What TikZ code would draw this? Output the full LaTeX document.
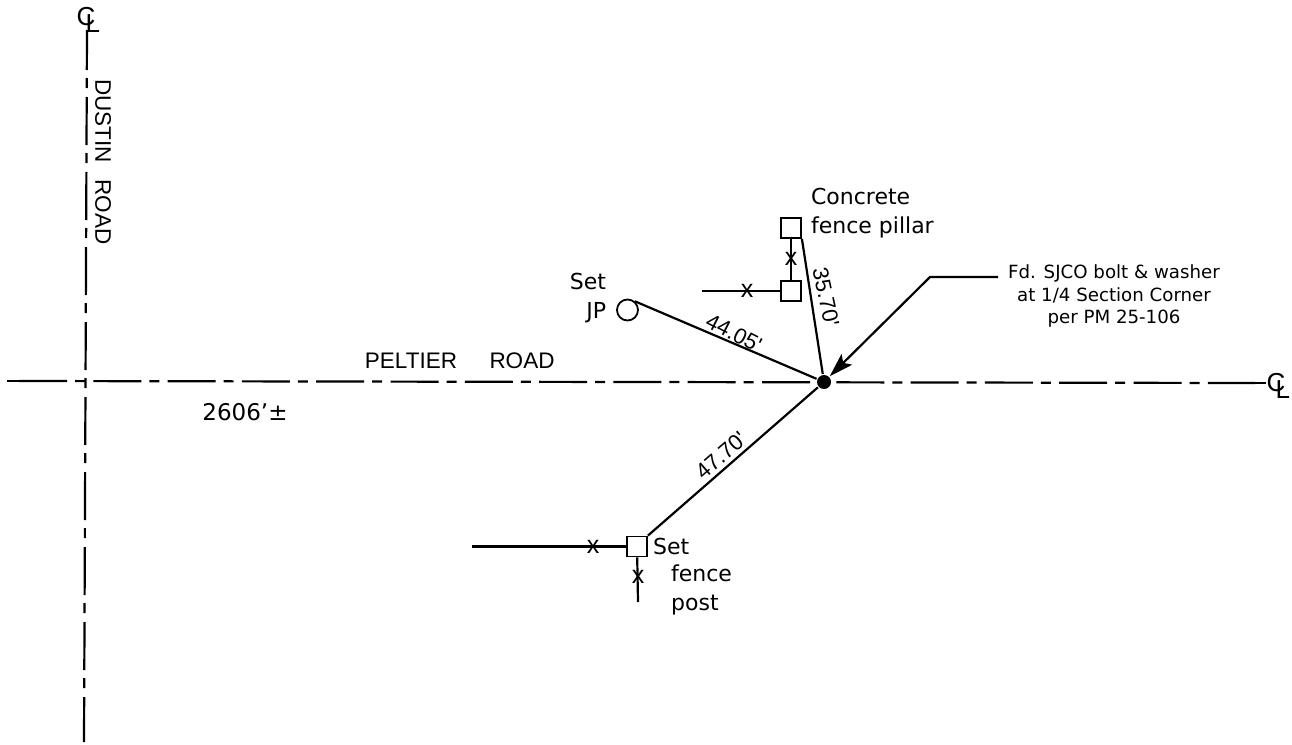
\documentclass[tikz,border=0pt]{standalone}
\usepackage{fontspec}
\usepackage{tikz}
\usetikzlibrary{arrows.meta}
\setmainfont{DejaVu Sans}
\newfontfamily\roadfont{Liberation Sans}
\newcommand{\clsign}{\rlap{\kern9pt\smash{\raisebox{-7pt}{L}}}C}

\begin{document}
\begin{tikzpicture}
[x=1pt,y=-1pt,line width=2.2pt,
every node/.style={inner sep=0pt,font=\fontsize{22}{29}\selectfont},
fencebox/.style={draw,rectangle,minimum size=20pt,line width=1.8pt},
fencex/.style={font=\roadfont\fontsize{25}{25}\selectfont},
road/.style={font=\roadfont\fontsize{22.5}{24}\selectfont},
dim/.style={font=\roadfont\fontsize{22}{24}\selectfont},
clmark/.style={font=\roadfont\fontsize{26}{26}\selectfont},
centerline/.style={dash pattern=on 48pt off 8pt on 10pt off 8.3pt}]
\useasboundingbox (0,0) rectangle (1292,744);
\node[clmark] (cltop) at (86,17) {\clsign};
\node[clmark] (clright) at (1276,383) {\clsign};
\coordinate (vtop) at (87,30);
\coordinate (vbot) at (84,742);
\coordinate (hleft) at (7,381);
\coordinate (hstart) at (19,381);
\coordinate (hend) at (1255,383);
\coordinate (hright) at (1266,383);
\draw[dash pattern=on 48pt off 8pt on 10pt off 9pt,dash phase=8pt] (vtop) -- (vbot);
\draw[centerline] (hstart) -- (hend);
\draw (hleft) -- (hstart);
\draw (hend) -- (hright);

\node[circle,fill=black,minimum size=14pt] (bolt) at (824,382) {};
\node[fencebox] (pillar) at (791,228) {};
\node[fencebox] (corner) at (791,291) {};
\node[fencebox] (post) at (637,546.5) {};
\node[draw,circle,minimum size=21pt,line width=1.8pt] (jp) at (627.5,310) {};

\coordinate (cornerend) at (702,291);
\coordinate (postwest) at (472,546.5);
\coordinate (postsouth) at (638,602);
\coordinate (leadstart) at (998,277);
\coordinate (leadbend) at (930,277);

\foreach \from/\to in {pillar.south east/bolt,jp.50/bolt,post.north east/bolt,pillar/corner,corner/cornerend,post/postwest,post/postsouth}
\draw (\from) -- (\to);
\draw[-{Stealth[length=24pt,width=15pt,inset=5pt]}] (leadstart) -- (leadbend) -- (bolt.45);

\node[fencex] (x1) at (791,259) {x};
\node[fencex] (x2) at (747,291) {x};
\node[fencex] (x3) at (593,546.5) {x};
\node[fencex] (x4) at (638,577) {x};

\node[dim,rotate=-27] (dist1) at (734,333) {44.05'};
\node[dim,rotate=-78] (dist2) at (826,297) {35.70'};
\node[dim,rotate=41] (dist3) at (721,455) {47.70'};

\node[anchor=west,align=left] (pillarlabel) at (810,213) {Concrete\\fence pillar};
\node[align=right] (jplabel) at (588,298) {Set\\JP};
\node[anchor=west] (postlabel) at (652,546) {Set};
\node[anchor=west,align=left] (postlabel2) at (670,590) {fence\\post};
\node[align=center,font=\fontsize{18.2}{22.5}\selectfont] (boltlabel) at (1114,296) {Fd. SJCO bolt \& washer\\at 1/4 Section Corner\\per PM 25-106};

\node[road] (peltier) at (411,361) {PELTIER};
\node[road] (peltier2) at (522,361) {ROAD};
\node[road,rotate=-90] (dustin) at (103,162) {DUSTIN\hspace{10pt} ROAD};
\node[font=\fontsize{23}{24}\selectfont] (dist4) at (245,412) {2606'±};
\end{tikzpicture}
\end{document}
